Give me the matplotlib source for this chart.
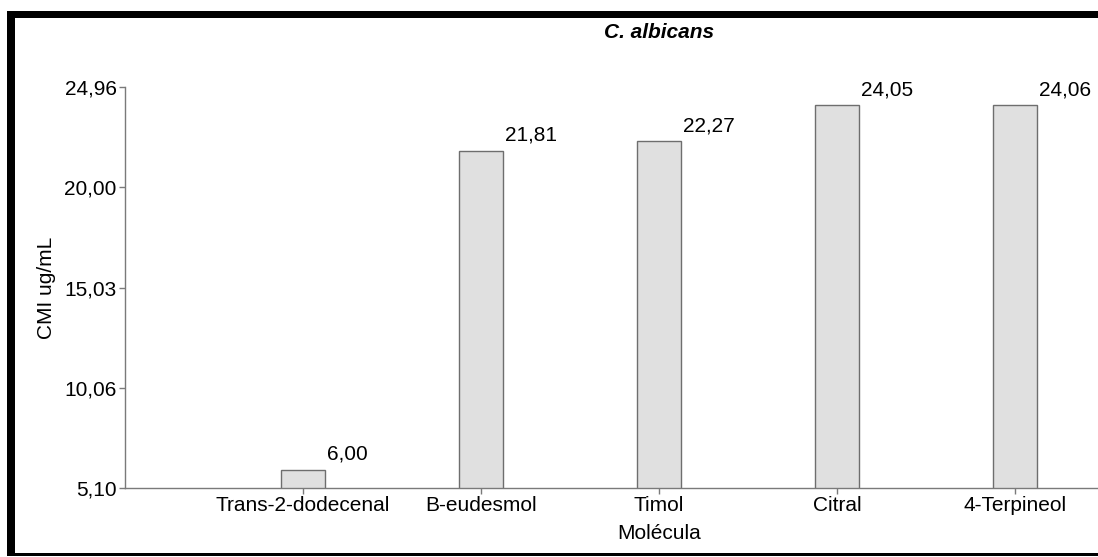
import matplotlib
matplotlib.use("Agg")
import matplotlib.pyplot as plt
from matplotlib.patches import Rectangle

# data
molecules = ["Trans-2-dodecenal", "B-eudesmol", "Timol", "Citral", "4-Terpineol"]
cmi_values = [6.00, 21.81, 22.27, 24.05, 24.06]
y_ticks = [5.10, 10.06, 15.03, 20.00, 24.96]

W, H = 1098, 557
FS = 15
plt.rcParams["font.family"] = ["Liberation Sans", "DejaVu Sans"]

fig = plt.figure(figsize=(W / 100, H / 100), dpi=100)
# axes runs past the right edge of the picture (cropped source)
ax = fig.add_axes([125 / W, 69 / H, 1068 / W, 401 / H])

x = list(range(len(molecules)))
bar_w = 0.245
ax.bar(x, cmi_values, width=bar_w, bottom=0, color="#e0e0e0",
       edgecolor="#6e6e6e", linewidth=1.0, zorder=2)

for xi, v in zip(x, cmi_values):
    ax.annotate(f"{v:.2f}".replace(".", ","), xy=(xi + bar_w / 2, v),
                xytext=(2, 6), textcoords="offset pixels",
                ha="left", va="bottom", fontsize=FS, color="black")

ax.set_xlim(-1, 5)
ax.set_ylim(y_ticks[0], y_ticks[-1])
ax.set_xticks(x)
ax.set_xticklabels(molecules, fontsize=FS)
ax.set_yticks(y_ticks)
ax.set_yticklabels([f"{t:.2f}".replace(".", ",") for t in y_ticks], fontsize=FS)

for s in ["top", "right"]:
    ax.spines[s].set_visible(False)
for s in ["left", "bottom"]:
    ax.spines[s].set_color("#7a7a7a")
    ax.spines[s].set_linewidth(1.0)
ax.tick_params(axis="both", colors="#7a7a7a", labelcolor="black",
               length=4, width=1.0, pad=2)

ax.set_xlabel("Molécula", fontsize=FS, labelpad=6)
ax.set_ylabel("CMI ug/mL", fontsize=FS, labelpad=6)
fig.text(659 / W, 1 - 33 / H, "C. albicans", fontsize=FS, fontweight="bold",
         fontstyle="italic", ha="center", va="center")

# black frame around the chart
frame_kw = dict(transform=fig.transFigure, color="black", lw=0, clip_on=False)
fig.add_artist(Rectangle((7 / W, 1 - 18 / H), 1.0, 7 / H, **frame_kw))
fig.add_artist(Rectangle((7 / W, 1 - 555 / H), 8 / W, 544 / H, **frame_kw))
fig.add_artist(Rectangle((7 / W, 1 - 556 / H), 1.0, 3 / H, **frame_kw))

fig.savefig("out.png", dpi=100)
